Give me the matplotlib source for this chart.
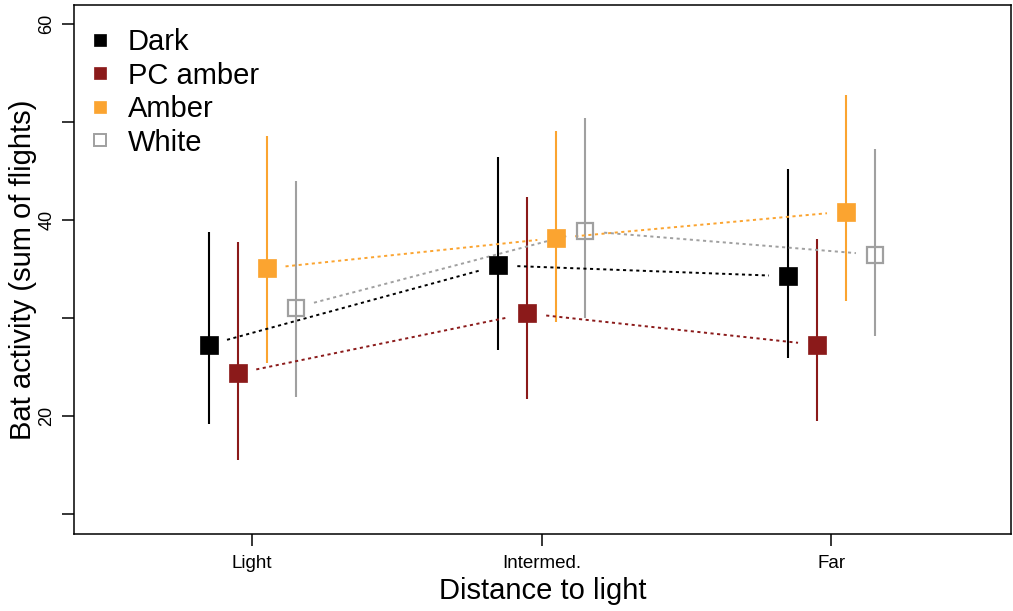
import matplotlib
matplotlib.use('Agg')
import matplotlib.pyplot as plt
import numpy as np
from matplotlib.lines import Line2D

plt.rcParams['font.family'] = ['Liberation Sans', 'DejaVu Sans']

categories = ['Light', 'Intermed.', 'Far']
series = ['Dark', 'PC amber', 'Amber', 'White']

dark_mean = [27.3, 35.4, 34.3]
dark_low = [19.2, 26.8, 26.0]
dark_high = [38.8, 46.5, 45.2]

pc_mean = [24.4, 30.5, 27.3]
pc_low = [15.6, 21.8, 19.5]
pc_high = [37.8, 42.4, 38.1]

amber_mean = [35.1, 38.2, 40.9]
amber_low = [25.4, 29.6, 31.8]
amber_high = [48.6, 49.1, 52.8]

white_mean = [31.1, 38.9, 36.5]
white_low = [22.0, 30.0, 28.2]
white_high = [44.0, 50.4, 47.3]

y_ticks = [10, 20, 30, 40, 50, 60]
y_ticklabels = ['', '20', '', '40', '', '60']

means = [dark_mean, pc_mean, amber_mean, white_mean]
lows = [dark_low, pc_low, amber_low, white_low]
highs = [dark_high, pc_high, amber_high, white_high]
colors = ['#000000', '#8B1A1A', '#FBA430', '#A0A0A0']
filled = [True, True, True, False]
offsets = [-0.15, -0.05, 0.05, 0.15]

W, H = 1013, 611
fig = plt.figure(figsize=(W / 100, H / 100), dpi=100)
ax = fig.add_axes([74 / W, 77 / H, 937 / W, 529.3 / H])
ax.set_xlim(0.385, 3.62)
ax.set_ylim(8, 62)

gap = 19.0  # pixels
base = np.arange(1, len(categories) + 1)
for k in range(len(series)):
    x = base + offsets[k]
    m = np.array(means[k])
    c = colors[k]
    ax.vlines(x, lows[k], highs[k], color=c, lw=1.5, zorder=2)
    for i in range(len(x) - 1):
        p0 = ax.transData.transform((x[i], m[i]))
        p1 = ax.transData.transform((x[i + 1], m[i + 1]))
        d = p1 - p0
        u = d / np.hypot(*d)
        a = p0 + u * gap
        b = p1 - u * gap
        seg = ax.transData.inverted().transform(np.array([a, b]))
        ax.plot(seg[:, 0], seg[:, 1], color=c, lw=1.4,
                linestyle=(0, (1.6, 1.8)), zorder=3)
    if filled[k]:
        ax.plot(x, m, 's', ms=12.5, mfc=c, mec=c, mew=0.5, ls='none', zorder=4)
    else:
        ax.plot(x, m, 's', ms=11.5, mfc='none', mec=c, mew=1.6, ls='none', zorder=4)

ax.set_xticks(base)
ax.set_xticklabels(categories, fontsize=13.5)
ax.set_yticks(y_ticks)
ax.set_yticklabels(y_ticklabels, fontsize=13)
ax.tick_params(axis='y', labelrotation=90, length=8.3, width=1.1, pad=5)
ax.tick_params(axis='x', length=8.3, width=1.1, pad=7)
for lab in ax.get_yticklabels():
    lab.set_va('center')
for s in ax.spines.values():
    s.set_linewidth(1.1)

ax.set_xlabel('Distance to light', fontsize=21)
ax.xaxis.set_label_coords(0.5, -0.082)
ax.set_ylabel('Bat activity (sum of flights)', fontsize=21)
ax.yaxis.set_label_coords(-0.040, 0.5)

handles = []
for k in range(len(series)):
    if filled[k]:
        h = Line2D([], [], marker='s', ls='none', ms=9, mfc=colors[k], mec=colors[k], mew=0.5)
    else:
        h = Line2D([], [], marker='s', ls='none', ms=8.5, mfc='none', mec=colors[k], mew=1.4)
    handles.append(h)
ax.legend(handles, series, loc='upper left', bbox_to_anchor=(0.0122, 0.956),
          frameon=False, fontsize=21, handlelength=1.0, handletextpad=0.45,
          labelspacing=0.19, borderpad=0, borderaxespad=0)

fig.savefig('out.png', dpi=100)
